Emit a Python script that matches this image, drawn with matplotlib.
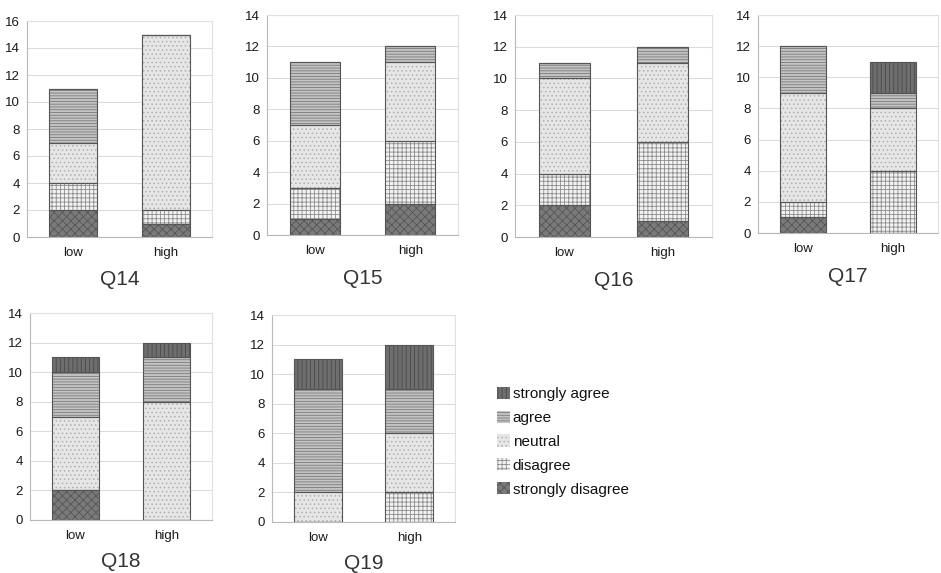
import matplotlib.pyplot as plt
from matplotlib.patches import Patch

plt.rcParams['font.family'] = ['Liberation Sans', 'DejaVu Sans']
plt.rcParams['hatch.linewidth'] = 0.6

questions = ['Q14', 'Q15', 'Q16', 'Q17', 'Q18', 'Q19']
groups = ['low', 'high']

# counts per question: [low, high]
strongly_disagree = [[2, 1], [1, 2], [2, 1], [1, 0], [2, 0], [0, 0]]
disagree = [[2, 1], [2, 4], [2, 5], [1, 4], [0, 0], [0, 2]]
neutral = [[3, 13], [4, 5], [6, 5], [7, 4], [5, 8], [2, 4]]
agree = [[4, 0], [4, 1], [1, 1], [3, 1], [3, 3], [7, 3]]
strongly_agree = [[0, 0], [0, 0], [0, 0], [0, 2], [1, 1], [2, 3]]

y_max = [16, 14, 14, 14, 14, 14]

levels = ['strongly disagree', 'disagree', 'neutral', 'agree', 'strongly agree']
series = [strongly_disagree, disagree, neutral, agree, strongly_agree]
# (face, hatch colour, hatch)
styles = [
    ('#7a7a7a', '#555555', 'xxxx'),
    ('#f2f2f2', '#8c8c8c', '++++'),
    ('#e6e6e6', '#b0b0b0', '....'),
    ('#c4c4c4', '#7a7a7a', '------'),
    ('#6e6e6e', '#4a4a4a', '||||'),
]

# axes boxes in pixels: x0, y0 (top), x1, y1 (bottom)
boxes = [
    (27, 21, 212, 237),
    (267, 15, 458, 235),
    (515, 15, 712, 237),
    (758, 15, 938, 233),
    (30, 313, 212, 520),
    (272, 315, 455, 522),
]

W, H = 941, 573
fig = plt.figure(figsize=(W / 100, H / 100), dpi=100)

for qi, q in enumerate(questions):
    x0, y0, x1, y1 = boxes[qi]
    ax = fig.add_axes([x0 / W, 1 - y1 / H, (x1 - x0) / W, (y1 - y0) / H])
    xs = range(len(groups))
    bottom = [0, 0]
    for s, (face, hc, hatch) in zip(series, styles):
        vals = s[qi]
        ax.bar(xs, vals, 0.52, bottom=bottom, color=face, edgecolor=hc,
               hatch=hatch, linewidth=0, zorder=2)
        ax.bar(xs, vals, 0.52, bottom=bottom, fill=False,
               edgecolor='#555555', linewidth=0.8, zorder=3)
        bottom = [b + v for b, v in zip(bottom, vals)]
    ax.set_xlim(-0.5, 1.5)
    ax.set_ylim(0, y_max[qi])
    ax.set_yticks(range(0, y_max[qi] + 1, 2))
    ax.set_xticks(list(xs))
    ax.set_xticklabels(groups)
    ax.tick_params(length=0, labelsize=9.5, colors='#1a1a1a', pad=5)
    ax.tick_params(axis='x', pad=7)
    ax.grid(axis='y', color='#dcdcdc', linewidth=0.8, zorder=0)
    ax.set_axisbelow(True)
    for side in ['top', 'right']:
        ax.spines[side].set_color('#e0e0e0')
    for side in ['left', 'bottom']:
        ax.spines[side].set_color('#b8b8b8')
    ax.text(0.5, -0.155, q, transform=ax.transAxes, ha='center', va='top',
            fontsize=15, color='#333333')

handles = [Patch(facecolor=f, edgecolor=hc, hatch=h, linewidth=0)
           for f, hc, h in styles]
fig.legend(handles[::-1], levels[::-1], loc='upper left',
           bbox_to_anchor=(483 / W, 1 - 373 / H), frameon=False,
           fontsize=11, handlelength=0.85, handleheight=0.85,
           handletextpad=0.2, labelspacing=0.62, labelcolor='#111111')

fig.savefig('out.png', dpi=100)
